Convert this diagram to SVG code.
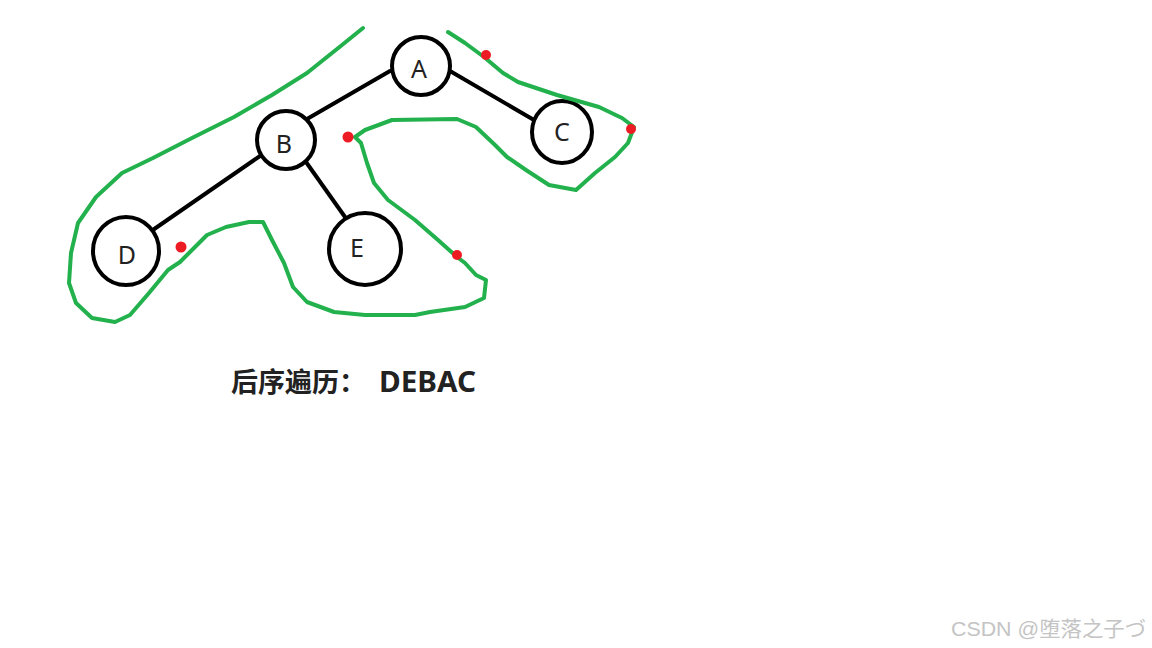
<svg xmlns="http://www.w3.org/2000/svg" width="1152" height="648" viewBox="0 0 1152 648">
<style>
.node{fill:#fff;stroke:#000;stroke-width:4}
.lbl{font-family:"Noto Sans","Open Sans",sans-serif;font-size:25px;fill:#222;text-anchor:middle;dominant-baseline:central}
.edge{stroke:#000;stroke-width:4;stroke-linecap:round}
.trace{fill:none;stroke:#22b14c;stroke-width:4;stroke-linejoin:round;stroke-linecap:round}
.dot{fill:#ed1c24}
</style>
<rect width="1152" height="648" fill="#fff"/>
<g id="connectors">
<line class="edge" x1="390" y1="71" x2="307" y2="119"/>
<line class="edge" x1="450" y1="71" x2="534" y2="120"/>
<line class="edge" x1="260" y1="156" x2="147" y2="234"/>
<line class="edge" x1="306" y1="162" x2="345" y2="217"/>
</g>
<g id="node-A"><circle class="node" cx="421" cy="66" r="29"/><text class="lbl" x="419" y="68">A</text></g>
<g id="node-B"><circle class="node" cx="286" cy="140" r="29"/><text class="lbl" x="284" y="143">B</text></g>
<g id="node-C"><ellipse class="node" cx="562" cy="132" rx="30" ry="31"/><text class="lbl" x="562" y="131">C</text></g>
<g id="node-D"><ellipse class="node" cx="126" cy="251" rx="33" ry="34"/><text class="lbl" x="127" y="254">D</text></g>
<g id="node-E"><ellipse class="node" cx="365" cy="249" rx="36" ry="36"/><text class="lbl" x="357" y="247">E</text></g>
<g id="trace">
<path class="trace" d="M363 28 L342 45 L307 73 L272 95 L234 117 L192 138 L153 158 L122 173 L96 197 L78 223 L71 253 L69 283 L76 303 L92 318 L115 322 L130 315 L149 293 L168 270 L180 262 L195 247 L207 235 L226 227 L249 222 L263 222 L272 240 L284 263 L293 287 L307 302 L334 312 L365 315 L415 315 L430 312 L465 307 L484 298 L486 280 L476 275 L465 263 L457 257 L438 240 L415 220 L388 200 L374 183 L367 163 L361 143 L355 137 L365 130 L392 120 L457 119 L476 127 L495 145 L507 157 L526 170 L549 185 L576 190 L595 173 L615 157 L628 143 L634 127 L622 118 L599 107 L557 95 L518 82 L503 73 L484 57 L465 43 L448 32"/>
</g>
<g id="dots">
<circle class="dot" cx="486" cy="55" r="5"/>
<circle class="dot" cx="631" cy="129" r="5"/>
<circle class="dot" cx="348" cy="137" r="5.5"/>
<circle class="dot" cx="181" cy="247" r="5.5"/>
<circle class="dot" cx="457" cy="255" r="5"/>
</g>
<text y="392" font-family="'Noto Sans','Noto Sans CJK SC',sans-serif" font-weight="bold" font-size="27" fill="#222"><tspan x="231">后序遍历：</tspan><tspan x="379" font-size="29" textLength="97" lengthAdjust="spacingAndGlyphs">DEBAC</tspan></text>
<text x="951" y="636" font-family="'Liberation Sans','Noto Sans CJK SC',sans-serif" font-size="21" fill="#c4c4c4" textLength="195" lengthAdjust="spacingAndGlyphs">CSDN @堕落之子づ</text>
</svg>
